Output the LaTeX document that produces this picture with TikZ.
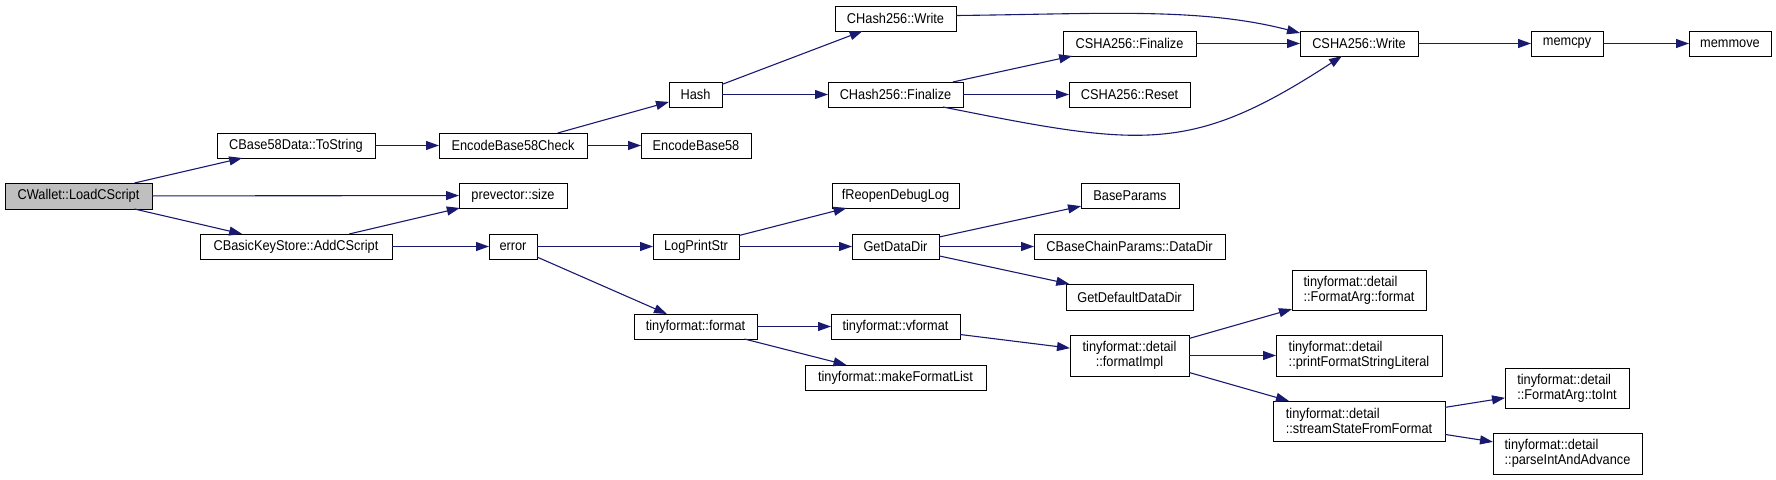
\documentclass[tikz,border=0pt]{standalone}
\usepackage{fontspec}
\setmainfont{Liberation Sans}[FakeStretch=0.9]
\usetikzlibrary{arrows.meta}
\definecolor{edgeblue}{HTML}{191970}
\definecolor{rootgray}{HTML}{BFBFBF}
\begin{document}
\begin{tikzpicture}[x=1pt,y=-1pt,
  fn/.style={draw=black,line width=1pt,fill=white,inner sep=0pt,outer sep=0pt,
    font=\fontsize{14.2}{15.3}\selectfont,align=left},
  root/.style={fn,fill=rootgray},
  call/.style={draw=edgeblue,line width=1.1pt,-{Triangle[length=13pt,width=9pt]},color=edgeblue}]
\useasboundingbox (0,0) rectangle (1776,479);
% column 1
\node[root,minimum width=147pt,minimum height=26pt] (load) at (78.5,196) {CWallet::LoadCScript};
% column 2
\node[fn,minimum width=158pt,minimum height=25pt] (tostr) at (296,145.5) {CBase58Data::ToString};
\node[fn,minimum width=192pt,minimum height=25pt] (addc) at (296,246.5) {CBasicKeyStore::AddCScript};
% column 3
\node[fn,minimum width=148pt,minimum height=25pt] (eb58c) at (513,145.5) {EncodeBase58Check};
\node[fn,minimum width=108pt,minimum height=25pt] (psize) at (513,195.5) {prevector::size};
\node[fn,minimum width=48pt,minimum height=25pt] (err) at (513,246.5) {error};
% column 4
\node[fn,minimum width=53pt,minimum height=25pt] (hash) at (695.5,94.5) {Hash};
\node[fn,minimum width=110pt,minimum height=25pt] (eb58) at (696,145.5) {EncodeBase58};
\node[fn,minimum width=86pt,minimum height=25pt] (lps) at (696,246.5) {LogPrintStr};
\node[fn,minimum width=123pt,minimum height=25pt] (tfmt) at (695.5,326.5) {tinyformat::format};
% column 5
\node[fn,minimum width=121pt,minimum height=25pt] (hw) at (895.5,18.5) {CHash256::Write};
\node[fn,minimum width=135pt,minimum height=25pt] (hf) at (895.5,94.5) {CHash256::Finalize};
\node[fn,minimum width=127pt,minimum height=25pt] (freop) at (895.5,195.5) {fReopenDebugLog};
\node[fn,minimum width=87pt,minimum height=25pt] (gdd) at (895.5,246.5) {GetDataDir};
\node[fn,minimum width=129pt,minimum height=25pt] (vfmt) at (895.5,326.5) {tinyformat::vformat};
\node[fn,minimum width=181pt,minimum height=25pt] (mfl) at (895.5,377.5) {tinyformat::makeFormatList};
% column 6
\node[fn,minimum width=133pt,minimum height=25pt] (sf) at (1129.5,43.5) {CSHA256::Finalize};
\node[fn,minimum width=121pt,minimum height=25pt] (sr) at (1129.5,94.5) {CSHA256::Reset};
\node[fn,minimum width=98pt,minimum height=25pt] (bp) at (1130,195.5) {BaseParams};
\node[fn,minimum width=191pt,minimum height=25pt] (cbcp) at (1129.5,246.5) {CBaseChainParams::DataDir};
\node[fn,minimum width=127pt,minimum height=26pt] (gddd) at (1129.5,297) {GetDefaultDataDir};
\node[fn,align=center,minimum width=119pt,minimum height=41pt] (fimpl) at (1129.5,355.5) {tinyformat::detail\\::formatImpl};
% column 7
\node[fn,minimum width=118pt,minimum height=25pt] (sw) at (1359,43.5) {CSHA256::Write};
\node[fn,minimum width=134pt,minimum height=40pt] (fafmt) at (1359,290) {tinyformat::detail\\::FormatArg::format};
\node[fn,minimum width=166pt,minimum height=41pt] (pfsl) at (1359,355.5) {tinyformat::detail\\::printFormatStringLiteral};
\node[fn,minimum width=172pt,minimum height=40pt] (sssf) at (1359,421) {tinyformat::detail\\::streamStateFromFormat};
% column 8
\node[fn,minimum width=72pt,minimum height=25pt] (memcpy) at (1567,43.5) {memcpy};
\node[fn,minimum width=124pt,minimum height=40pt] (toint) at (1567,388) {tinyformat::detail\\::FormatArg::toInt};
\node[fn,minimum width=149pt,minimum height=41pt] (pia) at (1567.5,453.5) {tinyformat::detail\\::parseIntAndAdvance};
% column 9
\node[fn,minimum width=82pt,minimum height=25pt] (memmove) at (1730,43.5) {memmove};

% edges
\draw[call] (load) -- (tostr);
\draw[call] (load) -- (psize);
\draw[call] (load) -- (addc);
\draw[call] (tostr) -- (eb58c);
\draw[call] (eb58c) -- (hash);
\draw[call] (eb58c) -- (eb58);
\draw[call] (hash) -- (hw);
\draw[call] (hash) -- (hf);
\draw[call] ([yshift=3pt]hw.east) .. controls (1100,14) and (1200,7) .. ([yshift=-2pt]sw.north west);
\draw[call] (hf) -- (sf);
\draw[call] (hf) -- (sr);
\draw[call] ([xshift=47.5pt]hf.south) .. controls (1143,147) and (1191,154.5) .. ([xshift=-17pt]sw.south);
\draw[call] (sf) -- (sw);
\draw[call] (sw) -- (memcpy);
\draw[call] (memcpy) -- (memmove);
\draw[call] (addc) -- (psize);
\draw[call] (addc) -- (err);
\draw[call] (err) -- (lps);
\draw[call] (err) -- (tfmt);
\draw[call] (lps) -- (freop);
\draw[call] (lps) -- (gdd);
\draw[call] (gdd) -- (bp);
\draw[call] (gdd) -- (cbcp);
\draw[call] (gdd) -- (gddd);
\draw[call] (tfmt) -- (vfmt);
\draw[call] (tfmt) -- (mfl);
\draw[call] (vfmt) -- (fimpl);
\draw[call] (fimpl) -- (fafmt);
\draw[call] (fimpl) -- (pfsl);
\draw[call] (fimpl) -- (sssf);
\draw[call] (sssf) -- (toint);
\draw[call] (sssf) -- (pia);
\end{tikzpicture}
\end{document}
